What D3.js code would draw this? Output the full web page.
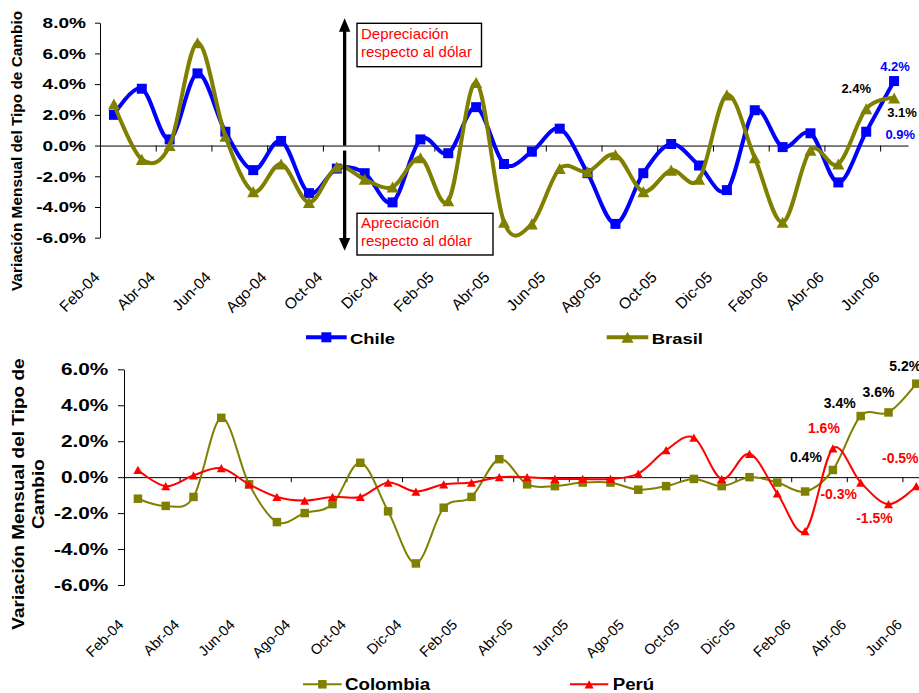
<!DOCTYPE html>
<html lang="es">
<head>
<meta charset="utf-8">
<title>Variación mensual del tipo de cambio</title>
<script src="https://cdn.jsdelivr.net/npm/d3@7/dist/d3.min.js"></script>
<style>
  html, body { margin: 0; padding: 0; background: #fff; }
  svg { display: block; }
</style>
</head>
<body>
<svg id="chart" width="919" height="693"></svg>
<script>
// Months on the category axis (Feb 2004 - Jun 2006)
const months = ["Feb-04","Mar-04","Abr-04","May-04","Jun-04","Jul-04","Ago-04","Sep-04","Oct-04","Nov-04","Dic-04",
                "Ene-05","Feb-05","Mar-05","Abr-05","May-05","Jun-05","Jul-05","Ago-05","Sep-05","Oct-05","Nov-05","Dic-05",
                "Ene-06","Feb-06","Mar-06","Abr-06","May-06","Jun-06"];

// Monthly change of each currency against the US dollar, in percent
const chile    = [2.0, 3.7, 0.4, 4.7, 0.9, -1.6, 0.3, -3.1, -1.5, -1.8, -3.7, 0.4, -0.5, 2.5, -1.2, -0.4, 1.1, -1.8, -5.1, -1.8, 0.1, -1.3, -2.9, 2.3, -0.1, 0.8, -2.4, 0.9, 4.2];
const brasil   = [2.7, -0.9, 0.0, 6.7, 0.6, -3.0, -1.2, -3.7, -1.4, -2.2, -2.7, -0.8, -3.6, 4.1, -5.0, -5.1, -1.5, -1.7, -0.6, -3.0, -1.6, -2.2, 3.3, -0.8, -5.0, -0.3, -1.2, 2.4, 3.1];
const colombia = [-1.2, -1.6, -1.1, 3.3, -0.4, -2.5, -2.0, -1.5, 0.8, -1.9, -4.8, -1.7, -1.1, 1.0, -0.4, -0.5, -0.3, -0.3, -0.7, -0.5, -0.1, -0.5, 0.0, -0.3, -0.8, 0.4, 3.4, 3.6, 5.2];
const peru     = [0.4, -0.5, 0.1, 0.5, -0.4, -1.1, -1.3, -1.1, -1.1, -0.3, -0.8, -0.4, -0.3, 0.0, 0.0, -0.1, -0.1, -0.1, 0.2, 1.5, 2.2, -0.1, 1.3, -0.9, -3.0, 1.6, -0.3, -1.5, -0.5];

// Value-axis ticks (percent)
const yTicksTop    = [-6, -4, -2, 0, 2, 4, 6, 8];
const yTicksBottom = [-6, -4, -2, 0, 2, 4, 6];

const titleTop    = ["Variación Mensual del Tipo de Cambio"];
const titleBottom = ["Variación Mensual del Tipo de", "Cambio"];
const noteUp      = ["Depreciación", "respecto al dólar"];
const noteDown    = ["Apreciación", "respecto al dólar"];

const FONT  = "'Liberation Sans', Arial, Helvetica, sans-serif";
const OLIVE = "#808000", BLUE = "#0000FF", RED = "#FF0000";
const pct = v => v.toFixed(1) + "%";

const svg = d3.select("#chart").attr("font-family", FONT);

function markerPath(shape, s) {
  if (shape === "square") return `M${-s/2},${-s/2}h${s}v${s}h${-s}Z`;
  const h = s * 0.92;
  return `M0,${-h/2}L${s/2},${h/2}L${-s/2},${h/2}Z`;
}

function drawPanel(p) {
  const g = svg.append("g");
  const x = d3.scaleLinear().domain([0, months.length]).range(p.xRange);
  const y = d3.scaleLinear().domain(p.yDomain).range(p.yRange);
  const cx = i => x(i + 0.5);
  const everyOther = d3.range(0, months.length, 2);

  // value axis
  const ya = g.append("g")
    .attr("transform", `translate(${p.xRange[0]},0)`)
    .call(d3.axisLeft(y).tickValues(p.yTicks).tickSize(p.yTickSize).tickSizeOuter(0).tickFormat(pct));
  ya.attr("font-family", FONT);
  ya.selectAll("line, path").attr("stroke", "#000");
  ya.selectAll("text")
    .attr("fill", "#000").attr("font-size", p.yFont).attr("font-weight", "bold")
    .attr("x", -p.yGap / p.yStretch)
    .attr("transform", `scale(${p.yStretch},1)`);

  // zero line with category tick marks
  const za = g.append("g")
    .attr("transform", `translate(0,${y(0)})`)
    .call(d3.axisBottom(x).tickValues(everyOther).tickSize(p.xTickSize).tickSizeOuter(0).tickFormat(""));
  za.selectAll("line, path").attr("stroke", "#000");

  // category labels along the bottom of the plot
  const la = g.append("g")
    .attr("transform", `translate(0,${p.yRange[0]})`)
    .call(d3.axisBottom(x).tickValues(everyOther).tickSize(0).tickFormat(i => months[i]));
  la.attr("font-family", FONT);
  la.select(".domain").remove();
  la.selectAll("text")
    .attr("x", 0).attr("y", 0).attr("dy", null)
    .attr("text-anchor", "end").attr("fill", "#000").attr("font-size", p.xFont)
    .attr("transform", `translate(0,${p.xLabelDrop}) rotate(-45)`);

  // series: smoothed line, then markers
  const line = d3.line().x((d, i) => cx(i)).y(d => y(d)).curve(d3.curveCatmullRom.alpha(0));
  p.series.forEach(s => {
    g.append("path").datum(s.values)
      .attr("d", line).attr("fill", "none")
      .attr("stroke", s.color).attr("stroke-width", s.width)
      .attr("stroke-linejoin", "round").attr("stroke-linecap", "round");
    g.append("g").selectAll("path").data(s.values).join("path")
      .attr("d", markerPath(s.marker, s.size))
      .attr("transform", (d, i) => `translate(${cx(i)},${y(d)})`)
      .attr("fill", s.color);
  });

  // value labels on the latest months
  g.append("g").selectAll("text").data(p.labels).join("text")
    .attr("x", l => cx(l.i) + l.dx)
    .attr("y", l => y(l.series.values[l.i]) + l.dy)
    .attr("text-anchor", "middle").attr("font-size", p.labelFont).attr("font-weight", "bold")
    .attr("fill", l => l.color)
    .text(l => pct(l.series.values[l.i]));

  // legend
  p.legend.forEach(it => {
    const s = it.series;
    g.append("line").attr("x1", it.x0).attr("x2", it.x1).attr("y1", p.legendY).attr("y2", p.legendY)
      .attr("stroke", s.color).attr("stroke-width", s.width);
    g.append("path").attr("d", markerPath(s.marker, s.size))
      .attr("transform", `translate(${(it.x0 + it.x1) / 2},${p.legendY})`).attr("fill", s.color);
    g.append("text")
      .attr("x", it.tx / p.legendStretch).attr("y", p.legendY + p.legendDy)
      .attr("transform", `scale(${p.legendStretch},1)`)
      .attr("font-size", p.legendFont).attr("font-weight", "bold").attr("fill", "#000")
      .text(s.name);
  });

  // rotated value-axis title
  p.title.lines.forEach((t, k) => {
    g.append("text")
      .attr("transform", `translate(${p.title.x + k * p.title.lead},${p.title.cy}) rotate(-90) scale(${p.title.stretch},1)`)
      .attr("text-anchor", "middle").attr("font-size", p.title.font).attr("font-weight", "bold").attr("fill", "#000")
      .text(t);
  });

  return { g, x, y };
}

const sChile    = { name: "Chile",    values: chile,    color: BLUE,  width: 4, marker: "square",   size: 10 };
const sBrasil   = { name: "Brasil",   values: brasil,   color: OLIVE, width: 4, marker: "triangle", size: 12 };
const sColombia = { name: "Colombia", values: colombia, color: OLIVE, width: 2, marker: "square",   size: 8.5 };
const sPeru     = { name: "Perú",     values: peru,     color: RED,   width: 2, marker: "triangle", size: 9 };

const topPanel = drawPanel({
  xRange: [100, 908], yDomain: [-6, 8], yRange: [237.7, 22.7], yTicks: yTicksTop,
  yTickSize: 5, yFont: 15, yGap: 14, yStretch: 1.27,
  xTickSize: 6, xFont: 15.5, xLabelDrop: 40.5,
  series: [sChile, sBrasil],
  labelFont: 13,
  labels: [
    { series: sChile,  i: 28, dx: 1,   dy: -10,  color: BLUE },
    { series: sChile,  i: 27, dx: 34,  dy: 7.3,  color: BLUE },
    { series: sBrasil, i: 27, dx: -10, dy: -15.3, color: "#000" },
    { series: sBrasil, i: 28, dx: 8,   dy: 19.4, color: "#000" }
  ],
  legendY: 337.3, legendDy: 6.7, legendFont: 15, legendStretch: 1.23,
  legend: [
    { series: sChile,  x0: 306,   x1: 346.7, tx: 350 },
    { series: sBrasil, x0: 606.7, x1: 648.3, tx: 651.7 }
  ],
  title: { lines: titleTop, x: 22, lead: 0, cy: 151, font: 14, stretch: 1.1 }
});

const bottomPanel = drawPanel({
  xRange: [124, 124 + 29 * 27.8], yDomain: [-6, 6], yRange: [585, 369.3], yTicks: yTicksBottom,
  yTickSize: 6, yFont: 16, yGap: 15.7, yStretch: 1.3,
  xTickSize: 5, xFont: 14.5, xLabelDrop: 40.6,
  series: [sColombia, sPeru],
  labelFont: 14,
  labels: [
    { series: sColombia, i: 25, dx: -27, dy: -8,   color: "#000" },
    { series: sColombia, i: 26, dx: -21, dy: -8.5, color: "#000" },
    { series: sColombia, i: 27, dx: -10, dy: -15,  color: "#000" },
    { series: sColombia, i: 28, dx: -11, dy: -13,  color: "#000" },
    { series: sPeru,     i: 25, dx: -9,  dy: -15,  color: RED },
    { series: sPeru,     i: 26, dx: -22, dy: 16,   color: RED },
    { series: sPeru,     i: 27, dx: -14, dy: 19,   color: RED },
    { series: sPeru,     i: 28, dx: -16, dy: -23,  color: RED }
  ],
  legendY: 684.3, legendDy: 5.6, legendFont: 17, legendStretch: 1.1,
  legend: [
    { series: sColombia, x0: 303, x1: 341.7, tx: 345 },
    { series: sPeru,     x0: 570, x1: 608.3, tx: 612.7 }
  ],
  title: { lines: titleBottom, x: 24, lead: 20, cy: 494, font: 17, stretch: 1.12 }
});

// Depreciation / appreciation arrows with their captions
(function drawNotes() {
  const { g, x, y } = topPanel;
  const ax = x(8.78);
  const ng = g.append("g");
  const tipUp = y(8) - 4.4, tipDown = y(-6) + 13;
  ng.append("line").attr("x1", ax).attr("x2", ax).attr("y1", y(0)).attr("y2", tipUp + 12)
    .attr("stroke", "#000").attr("stroke-width", 3.3);
  ng.append("path").attr("d", `M${ax},${tipUp}l5.7,13.4h-11.4Z`).attr("fill", "#000");
  ng.append("line").attr("x1", ax).attr("x2", ax).attr("y1", y(0) + 5).attr("y2", tipDown - 11)
    .attr("stroke", "#000").attr("stroke-width", 3.3);
  ng.append("path").attr("d", `M${ax},${tipDown}l5.7,-12.7h-11.4Z`).attr("fill", "#000");

  const boxes = [
    { lines: noteUp,   x: 357, y: 23.3,  w: 124.5, h: 43.4, base: 39.3,  lead: 18 },
    { lines: noteDown, x: 357, y: 213.3, w: 136,   h: 41.7, base: 228.3, lead: 17.2 }
  ];
  boxes.forEach(b => {
    ng.append("rect").attr("x", b.x).attr("y", b.y).attr("width", b.w).attr("height", b.h)
      .attr("fill", "#fff").attr("stroke", "#000").attr("stroke-width", 1.4);
    b.lines.forEach((t, k) => {
      ng.append("text").attr("x", b.x + 4).attr("y", b.base + k * b.lead)
        .attr("font-size", 15).attr("fill", RED).text(t);
    });
  });
})();
</script>
</body>
</html>
